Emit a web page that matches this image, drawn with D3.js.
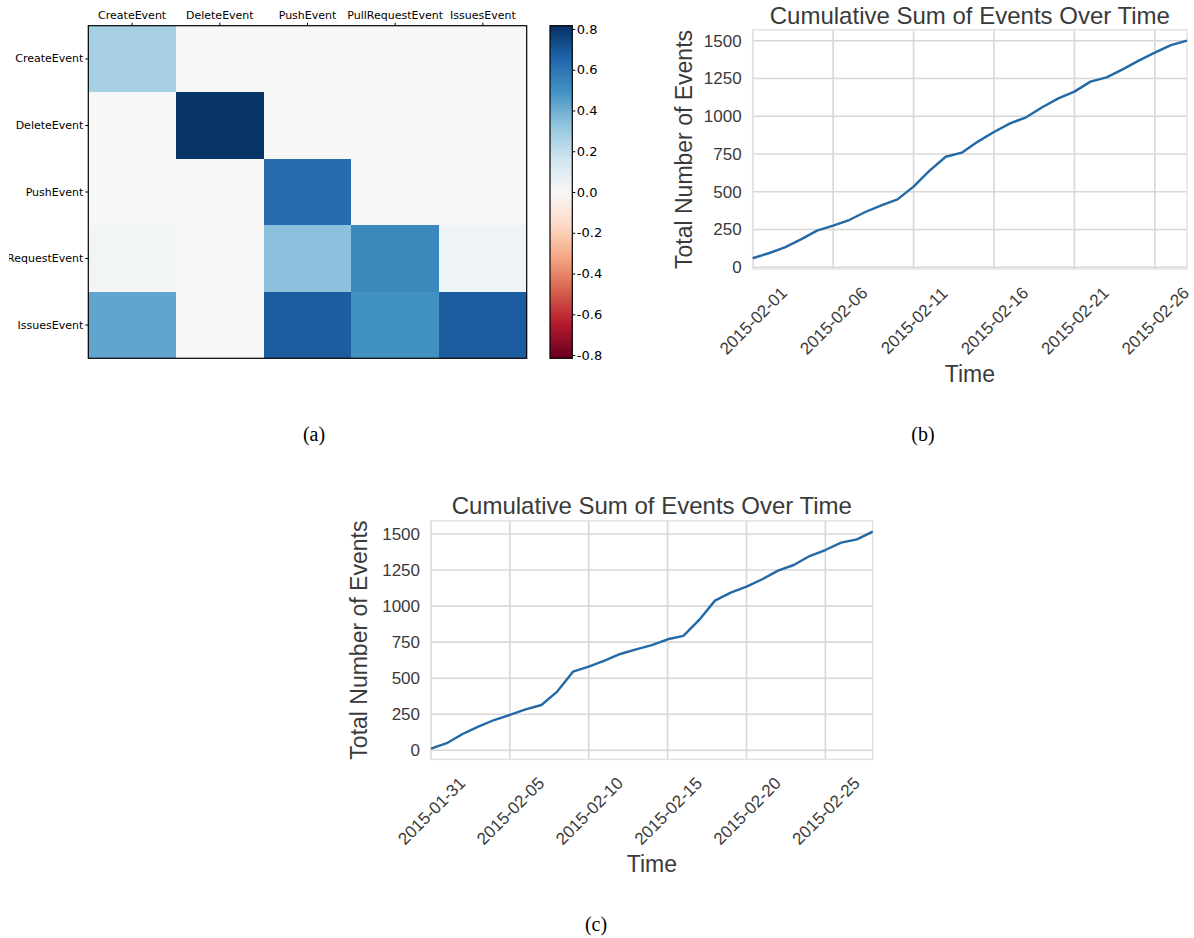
<!DOCTYPE html>
<html>
<head>
<meta charset="utf-8">
<script src="https://cdn.jsdelivr.net/npm/d3@7"></script>
<style>
  body { margin: 0; background: #fff; }
</style>
</head>
<body>
<svg id="fig" width="1194" height="938"></svg>
<script>
// heatmap (a)
var eventTypes = ["CreateEvent", "DeleteEvent", "PushEvent", "PullRequestEvent", "IssuesEvent"];
var corrRows = [
  [0.27, 0.00, 0.00, 0.00, 0.00],
  [0.00, 0.80, 0.00, 0.00, 0.00],
  [0.00, 0.00, 0.63, 0.00, 0.00],
  [0.02, 0.00, 0.34, 0.53, 0.04],
  [0.43, 0.00, 0.68, 0.50, 0.68]
];
var cbarTicks = [-0.8, -0.6, -0.4, -0.2, 0, 0.2, 0.4, 0.6, 0.8];
// matplotlib RdBu anchor colours
var rdbu = ["#67001f", "#b2182b", "#d6604d", "#f4a582", "#fddbc7", "#f7f7f7",
  "#d1e5f0", "#92c5de", "#4393c3", "#2166ac", "#053061"];

// line chart (b)
var datesB = ["2015-02-01","2015-02-02","2015-02-03","2015-02-04","2015-02-05","2015-02-06","2015-02-07",
  "2015-02-08","2015-02-09","2015-02-10","2015-02-11","2015-02-12","2015-02-13","2015-02-14",
  "2015-02-15","2015-02-16","2015-02-17","2015-02-18","2015-02-19","2015-02-20","2015-02-21",
  "2015-02-22","2015-02-23","2015-02-24","2015-02-25","2015-02-26","2015-02-27","2015-02-28"];
var totalsB = [60, 93, 132, 185, 243, 276, 313, 366, 410, 450, 534, 640, 732, 759,
  832, 896, 953, 993, 1059, 1118, 1163, 1229, 1257, 1310, 1368, 1421, 1471, 1500];
var ticksB = ["2015-02-01", "2015-02-06", "2015-02-11", "2015-02-16", "2015-02-21", "2015-02-26"];

// line chart (c)
var datesC = ["2015-01-31","2015-02-01","2015-02-02","2015-02-03","2015-02-04","2015-02-05","2015-02-06",
  "2015-02-07","2015-02-08","2015-02-09","2015-02-10","2015-02-11","2015-02-12","2015-02-13",
  "2015-02-14","2015-02-15","2015-02-16","2015-02-17","2015-02-18","2015-02-19","2015-02-20",
  "2015-02-21","2015-02-22","2015-02-23","2015-02-24","2015-02-25","2015-02-26","2015-02-27","2015-02-28"];
var totalsC = [12, 49, 113, 164, 210, 245, 284, 314, 407, 545, 580, 622, 668, 700, 730,
  770, 793, 904, 1038, 1093, 1135, 1186, 1246, 1285, 1347, 1389, 1440, 1463, 1516];
var ticksC = ["2015-01-31", "2015-02-05", "2015-02-10", "2015-02-15", "2015-02-20", "2015-02-25"];

var countTicks = [0, 250, 500, 750, 1000, 1250, 1500];

var svg = d3.select("#fig");
svg.append("rect").attr("width", 1194).attr("height", 938).attr("fill", "#fff");
var defs = svg.append("defs");

buildHeatmap();
buildLine({dates: datesB, values: totalsB, ticks: ticksB,
  left: 752.7, right: 1187, zeroY: 267.3, topTickY: 40.7, titleY: 23.5, ylabX: 692});
buildLine({dates: datesC, values: totalsC, ticks: ticksC,
  left: 431, right: 872.7, zeroY: 750.3, topTickY: 534, titleY: 514, ylabX: 367});

// captions
var caps = [{t: "(a)", x: 314, y: 441}, {t: "(b)", x: 923, y: 441}, {t: "(c)", x: 596, y: 931}];
svg.selectAll(".cap").data(caps).enter().append("text")
  .attr("class", "cap")
  .attr("x", function(d) { return d.x; })
  .attr("y", function(d) { return d.y; })
  .attr("text-anchor", "middle")
  .style("font-family", "'Liberation Serif', 'Times New Roman', serif")
  .style("font-size", "20px")
  .text(function(d) { return d.t; });

function buildHeatmap() {
  var left = 88.3, right = 526.7, top = 25.7, bottom = 358.3;
  var vmax = 0.816;

  var x = d3.scaleBand().domain(eventTypes).range([left, right]);
  var y = d3.scaleBand().domain(eventTypes).range([top, bottom]);
  // piecewise linear like matplotlib's LinearSegmentedColormap
  var color = d3.scaleLinear()
    .domain(rdbu.map(function(c, i) { return -vmax + 2 * vmax * i / (rdbu.length - 1); }))
    .range(rdbu)
    .interpolate(d3.interpolateRgb)
    .clamp(true);

  var cells = [];
  corrRows.forEach(function(row, i) {
    row.forEach(function(v, j) {
      cells.push({row: eventTypes[i], col: eventTypes[j], value: v});
    });
  });

  var g = svg.append("g");
  g.selectAll("rect.cell").data(cells).enter().append("rect")
    .attr("class", "cell")
    .attr("x", function(d) { return x(d.col); })
    .attr("y", function(d) { return y(d.row); })
    .attr("width", x.bandwidth())
    .attr("height", y.bandwidth())
    .attr("fill", function(d) { return color(d.value); })
    .attr("shape-rendering", "crispEdges");

  g.append("rect")
    .attr("x", left).attr("y", top)
    .attr("width", right - left).attr("height", bottom - top)
    .attr("fill", "none").attr("stroke", "#000").attr("stroke-width", 1.2);

  var font = "'DejaVu Sans', sans-serif";

  var topAxis = g.append("g")
    .attr("transform", "translate(0," + top + ")")
    .call(d3.axisTop(x).tickSize(3).tickPadding(3.5));
  topAxis.select(".domain").remove();
  topAxis.selectAll("text").style("font-family", font).style("font-size", "11px").attr("fill", "#000");

  defs.append("clipPath").attr("id", "leftClip")
    .append("rect").attr("x", 9).attr("y", 0).attr("width", 90).attr("height", 380);

  var leftAxis = g.append("g")
    .attr("clip-path", "url(#leftClip)")
    .append("g")
    .attr("transform", "translate(" + left + ",0)")
    .call(d3.axisLeft(y).tickSize(3).tickPadding(2));
  leftAxis.select(".domain").remove();
  leftAxis.selectAll("text").style("font-family", font).style("font-size", "11px").attr("fill", "#000");

  // colorbar
  var cbLeft = 550, cbWidth = 22.3;
  var grad = defs.append("linearGradient").attr("id", "rdbuGrad")
    .attr("x1", 0).attr("y1", 1).attr("x2", 0).attr("y2", 0);
  grad.selectAll("stop").data(rdbu).enter().append("stop")
    .attr("offset", function(c, i) { return i / (rdbu.length - 1); })
    .attr("stop-color", function(c) { return c; });

  g.append("rect")
    .attr("x", cbLeft).attr("y", top)
    .attr("width", cbWidth).attr("height", bottom - top)
    .attr("fill", "url(#rdbuGrad)")
    .attr("stroke", "#000").attr("stroke-width", 1.2);

  var cbScale = d3.scaleLinear().domain([-vmax, vmax]).range([bottom, top]);
  var cbAxis = g.append("g")
    .attr("transform", "translate(" + (cbLeft + cbWidth) + ",0)")
    .call(d3.axisRight(cbScale).tickValues(cbarTicks).tickSize(3).tickPadding(1.5)
      .tickFormat(function(d) { return d.toFixed(1); }));
  cbAxis.select(".domain").remove();
  cbAxis.selectAll("text").style("font-family", font).style("font-size", "13px").attr("fill", "#000");
}

function buildLine(c) {
  var parse = d3.timeParse("%Y-%m-%d");
  var fmt = d3.timeFormat("%Y-%m-%d");
  var pts = c.dates.map(function(d, i) { return {date: parse(d), value: c.values[i]}; });
  var tickDates = c.ticks.map(parse);

  var ext = d3.extent(c.values);
  var pad = (ext[1] - ext[0]) * 0.05;
  var pxPerUnit = (c.zeroY - c.topTickY) / 1500;
  var bottom = c.zeroY + (pad - ext[0]) * pxPerUnit;
  var top = c.topTickY - (ext[1] + pad - 1500) * pxPerUnit;

  var x = d3.scaleTime().domain(d3.extent(pts, function(d) { return d.date; })).range([c.left, c.right]);
  var y = d3.scaleLinear().domain([ext[0] - pad, ext[1] + pad]).range([bottom, top]);

  var font = "'Liberation Sans', Arial, sans-serif";
  var ink = "#3a3a3a";
  var grid = "#d8d8d8";
  var g = svg.append("g");

  g.selectAll("line.hgrid").data(countTicks).enter().append("line")
    .attr("class", "hgrid")
    .attr("x1", c.left).attr("x2", c.right)
    .attr("y1", function(d) { return y(d); }).attr("y2", function(d) { return y(d); })
    .attr("stroke", grid).attr("stroke-width", 1.6);

  g.selectAll("line.vgrid").data(tickDates).enter().append("line")
    .attr("class", "vgrid")
    .attr("x1", function(d) { return x(d); }).attr("x2", function(d) { return x(d); })
    .attr("y1", top).attr("y2", bottom)
    .attr("stroke", grid).attr("stroke-width", 1.6);

  g.append("rect")
    .attr("x", c.left).attr("y", top)
    .attr("width", c.right - c.left).attr("height", bottom - top)
    .attr("fill", "none").attr("stroke", "#e2e2e2").attr("stroke-width", 1.4);

  var line = d3.line()
    .x(function(d) { return x(d.date); })
    .y(function(d) { return y(d.value); });

  g.append("path")
    .datum(pts)
    .attr("d", line)
    .attr("fill", "none")
    .attr("stroke", "#2369a6")
    .attr("stroke-width", 2.4)
    .attr("stroke-linejoin", "round");

  var yAxis = g.append("g")
    .attr("transform", "translate(" + c.left + ",0)")
    .call(d3.axisLeft(y).tickValues(countTicks).tickSize(0).tickPadding(11)
      .tickFormat(function(d) { return String(d); }));
  yAxis.select(".domain").remove();
  yAxis.selectAll("text").style("font-family", font).style("font-size", "17px").attr("fill", ink);

  var xAxis = g.append("g")
    .attr("transform", "translate(0," + bottom + ")")
    .call(d3.axisBottom(x).tickValues(tickDates).tickSize(0).tickFormat(fmt));
  xAxis.select(".domain").remove();
  xAxis.selectAll("text")
    .attr("y", 0).attr("dy", "0.35em")
    .attr("text-anchor", "middle")
    .attr("transform", "translate(0,51.5) rotate(-45)")
    .style("font-family", font).style("font-size", "17px").attr("fill", ink);

  var midX = (c.left + c.right) / 2;
  g.append("text")
    .attr("x", midX).attr("y", c.titleY)
    .attr("text-anchor", "middle")
    .style("font-family", font).style("font-size", "24px").attr("fill", ink)
    .text("Cumulative Sum of Events Over Time");

  g.append("text")
    .attr("x", midX).attr("y", bottom + 112.7)
    .attr("text-anchor", "middle")
    .style("font-family", font).style("font-size", "23px").attr("fill", ink)
    .text("Time");

  g.append("text")
    .attr("transform", "translate(" + c.ylabX + "," + ((top + bottom) / 2) + ") rotate(-90)")
    .attr("text-anchor", "middle")
    .style("font-family", font).style("font-size", "23px").attr("fill", ink)
    .text("Total Number of Events");
}
</script>
</body>
</html>
